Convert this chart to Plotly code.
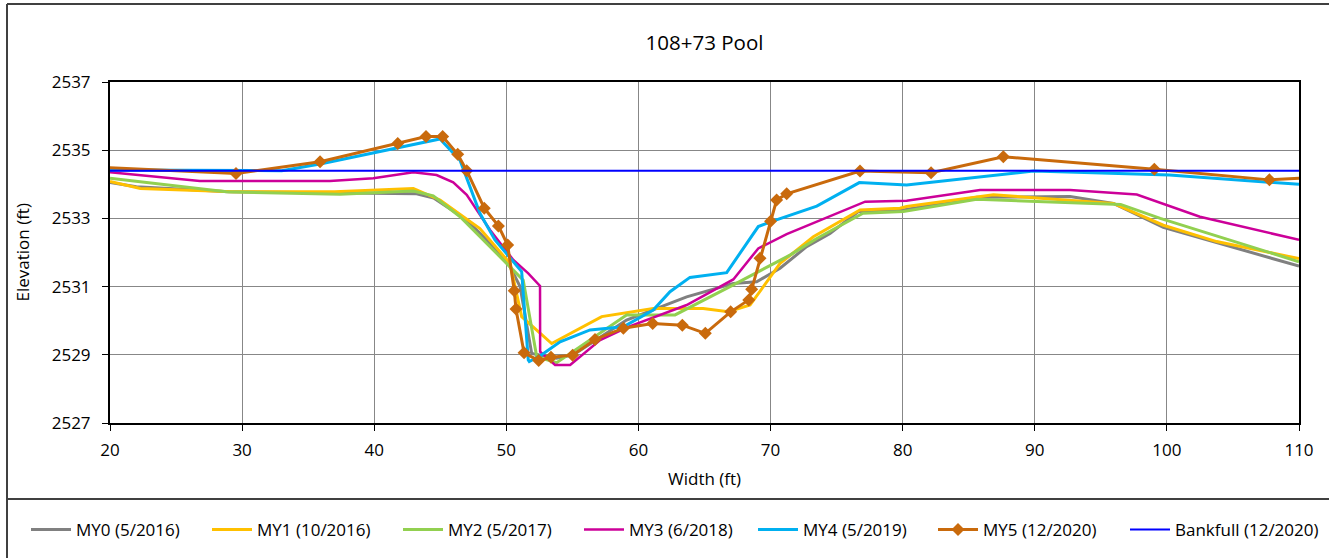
import plotly.graph_objects as go

# Cross-section survey data: station (ft) vs elevation (ft)
my0_x = [20, 22.0, 29.0, 37.0, 43.2, 44.5, 47.0, 48.5, 50.15, 51.04, 51.92, 53.81, 55.07, 59.1, 63.65, 67.18, 68.95, 70.72, 72.73, 74.5, 76.65, 80.05, 85.6, 92.67, 95.95, 99.73, 103.5, 110]
my0_y = [2534.05, 2533.93, 2533.78, 2533.75, 2533.72, 2533.6, 2532.95, 2532.37, 2531.68, 2531.0, 2529.04, 2528.9, 2529.0, 2530.02, 2530.7, 2531.09, 2531.14, 2531.54, 2532.17, 2532.56, 2533.2, 2533.25, 2533.62, 2533.64, 2533.44, 2532.74, 2532.32, 2531.6]

my1_x = [20, 22.3, 29.3, 37.0, 42.96, 44.98, 48.0, 50.28, 51.16, 53.43, 57.22, 61.12, 64.9, 66.8, 68.45, 70.2, 70.72, 73.24, 76.77, 79.8, 80.3, 86.87, 95.95, 99.73, 103.77, 110]
my1_y = [2534.08, 2533.88, 2533.78, 2533.78, 2533.88, 2533.54, 2532.7, 2531.68, 2530.12, 2529.33, 2530.12, 2530.36, 2530.36, 2530.26, 2530.46, 2531.39, 2531.68, 2532.46, 2533.25, 2533.3, 2533.35, 2533.69, 2533.44, 2532.8, 2532.32, 2531.82]

my2_x = [20, 28.8, 37.4, 42.96, 44.47, 46.5, 50.28, 51.28, 52.3, 53.81, 59.1, 62.77, 66.93, 71.5, 73.5, 77.0, 80.05, 85.6, 96.5, 99.5, 110]
my2_y = [2534.18, 2533.78, 2533.71, 2533.8, 2533.66, 2533.05, 2531.58, 2531.19, 2528.94, 2528.77, 2530.17, 2530.17, 2531.0, 2531.93, 2532.41, 2533.15, 2533.2, 2533.56, 2533.41, 2533.0, 2531.73]

my3_x = [20, 26.8, 36.65, 39.93, 42.96, 44.72, 45.98, 47.0, 48.77, 50.53, 51.66, 52.55, 52.56, 53.69, 54.83, 57.1, 59.23, 63.65, 67.18, 69.07, 71.22, 73.75, 77.16, 80.3, 85.86, 92.67, 97.72, 102.5, 110]
my3_y = [2534.35, 2534.1, 2534.1, 2534.18, 2534.35, 2534.27, 2534.06, 2533.69, 2532.66, 2531.78, 2531.39, 2531.02, 2529.09, 2528.7, 2528.7, 2529.43, 2529.82, 2530.46, 2531.21, 2532.12, 2532.54, 2532.95, 2533.49, 2533.52, 2533.83, 2533.83, 2533.7, 2533.05, 2532.37]

my4_x = [20, 33.0, 36.0, 44.98, 46.5, 48.0, 49.14, 51.16, 51.66, 51.74, 52.68, 54.07, 56.34, 58.86, 61.12, 62.39, 63.9, 66.68, 69.07, 70.0, 73.5, 76.72, 80.3, 89.9, 100.2, 110]
my4_y = [2534.42, 2534.4, 2534.6, 2535.33, 2534.7, 2533.15, 2532.37, 2531.44, 2528.85, 2528.8, 2529.0, 2529.38, 2529.73, 2529.82, 2530.31, 2530.85, 2531.27, 2531.41, 2532.76, 2532.9, 2533.36, 2534.05, 2533.98, 2534.39, 2534.27, 2534.0]

my5_x = [18.0, 29.54, 35.9, 41.78, 43.92, 45.18, 46.32, 47.0, 48.33, 49.4, 50.1, 50.6, 50.73, 51.34, 52.45, 53.38, 55.02, 56.71, 58.86, 61.08, 63.32, 65.06, 66.98, 68.35, 68.57, 69.2, 70.0, 70.46, 71.22, 76.77, 82.15, 87.62, 99.05, 107.76, 112.0]
my5_y = [2534.52, 2534.32, 2534.66, 2535.2, 2535.4, 2535.4, 2534.88, 2534.4, 2533.3, 2532.78, 2532.22, 2530.88, 2530.34, 2529.06, 2528.83, 2528.93, 2528.99, 2529.45, 2529.78, 2529.92, 2529.87, 2529.63, 2530.26, 2530.61, 2530.92, 2531.83, 2532.92, 2533.54, 2533.72, 2534.39, 2534.34, 2534.81, 2534.44, 2534.13, 2534.22]

bankfull_x = [20, 110]
bankfull_y = [2534.4, 2534.4]

names = ["MY0 (5/2016)", "MY1 (10/2016)", "MY2 (5/2017)", "MY3 (6/2018)",
         "MY4 (5/2019)", "MY5 (12/2020)", "Bankfull (12/2020)"]

FONT = "Open Sans"
W, H = 1329, 558
L, R, T, B = 110, 30, 82, 135
PW, PH = W - L - R, H - T - B


def px_x(p):
    return (p - L) / PW


def px_y(p):
    return (H - B - p) / PH


series = [
    (my0_x, my0_y, "#808080", 3, None),
    (my1_x, my1_y, "#FFC000", 3, None),
    (my2_x, my2_y, "#92D050", 3, None),
    (my3_x, my3_y, "#CC0099", 2.5, None),
    (my4_x, my4_y, "#00B0F0", 3, None),
    (my5_x, my5_y, "#C96A0C", 3, dict(symbol="diamond", size=10)),
    (bankfull_x, bankfull_y, "#0000FF", 2, None),
]

# legend entry start positions (pixels)
legend_px = [26, 207, 398, 579, 753, 933, 1125]

fig = go.Figure()
layout_legends = {}
for i, (xs, ys, color, width, marker) in enumerate(series):
    lname = "legend" if i == 0 else f"legend{i + 1}"
    kw = dict(x=xs, y=ys, name=names[i], line=dict(color=color, width=width),
              legend=lname)
    if marker:
        kw["mode"] = "lines+markers"
        kw["marker"] = dict(color=color, **marker)
    else:
        kw["mode"] = "lines"
    fig.add_trace(go.Scatter(**kw))
    layout_legends[lname] = dict(
        x=legend_px[i] / W, y=1 - 530 / H, xref="container", yref="container",
        xanchor="left", yanchor="middle",
        orientation="h", bgcolor="rgba(0,0,0,0)", borderwidth=0,
        font=dict(family=FONT, size=17, color="#000000"),
        itemwidth=40,
    )

fig.update_layout(
    width=W, height=H,
    margin=dict(l=L, r=R, t=T, b=B),
    paper_bgcolor="white", plot_bgcolor="white",
    font=dict(family=FONT, size=17, color="#000000"),
    showlegend=True,
    title=dict(text="108+73 Pool", x=0.5, xref="paper", xanchor="center",
               y=1 - 43 / H, yref="container", yanchor="middle",
               font=dict(family=FONT, size=20.5, color="#000000")),
    **layout_legends,
)

fig.update_xaxes(
    range=[20, 110], dtick=10, tick0=20,
    showgrid=True, gridcolor="#878787", gridwidth=1,
    showline=True, linecolor="#000000", linewidth=2, mirror=True,
    ticks="outside", ticklen=6, tickcolor="#000000",
    tickfont=dict(family=FONT, size=17), zeroline=False,
    ticklabelstandoff=5,
)
fig.update_yaxes(
    range=[2527, 2537], dtick=2, tick0=2527,
    showgrid=True, gridcolor="#878787", gridwidth=1,
    showline=True, linecolor="#000000", linewidth=2, mirror=True,
    ticks="outside", ticklen=6, tickcolor="#000000",
    tickfont=dict(family=FONT, size=17), zeroline=False,
    ticklabelstandoff=8,
)

# axis titles
fig.add_annotation(text="Width (ft)", x=0.5, y=px_y(478), xref="paper", yref="paper",
                   showarrow=False, xanchor="center", yanchor="middle",
                   font=dict(family=FONT, size=17))
fig.add_annotation(text="Elevation (ft)", x=px_x(22), y=0.5, xref="paper", yref="paper",
                   showarrow=False, textangle=-90, xanchor="center", yanchor="middle",
                   font=dict(family=FONT, size=17))

# chart frame and legend separator
line_style = dict(color="#404040", width=2)
fig.add_shape(type="line", xref="paper", yref="paper",
              x0=px_x(7), x1=px_x(W + 5), y0=px_y(4), y1=px_y(4), line=line_style)
fig.add_shape(type="line", xref="paper", yref="paper",
              x0=px_x(7), x1=px_x(7), y0=px_y(4), y1=px_y(H + 5), line=line_style)
fig.add_shape(type="line", xref="paper", yref="paper",
              x0=px_x(7), x1=px_x(W + 5), y0=px_y(499), y1=px_y(499), line=line_style)

fig.write_html("out.html")
